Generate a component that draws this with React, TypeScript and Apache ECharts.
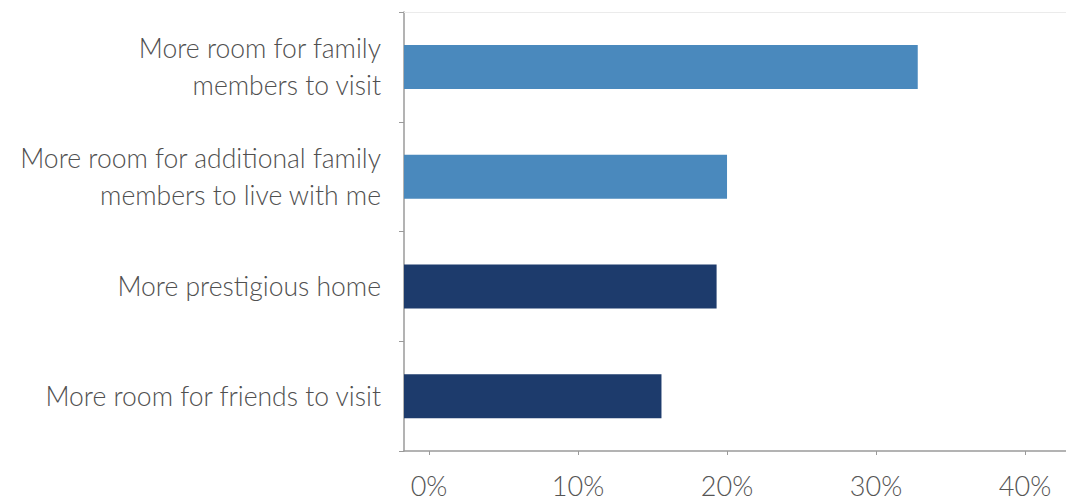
import React, { useEffect, useRef } from "react";
import * as echarts from "echarts";

const categories = [
  "More room for family\nmembers to visit",
  "More room for additional family\nmembers to live with me",
  "More prestigious home",
  "More room for friends to visit",
];
const values = [32.8, 20.0, 19.3, 15.6];
const barColors = ["#4A89BD", "#4A89BD", "#1D3B6C", "#1D3B6C"];
const tickValues = [0, 10, 20, 30, 40];

export default function App() {
  const ref = useRef<HTMLDivElement>(null);
  useEffect(() => {
    document.body.style.margin = "0";
    const chart = echarts.init(ref.current!, null, { renderer: "svg" });
    const xMin = -1.68;
    const xMax = 42.75;
    chart.setOption({
      animation: false,
      backgroundColor: "#ffffff",
      grid: { left: 404, right: 0, top: 12, bottom: 50, containLabel: false },
      xAxis: [
        {
          type: "value",
          min: xMin,
          max: xMax,
          position: "bottom",
          axisLine: { show: true, onZero: false, lineStyle: { color: "#9a9a9a", width: 1.5 } },
          axisTick: {
            show: true,
            length: 4,
            customValues: tickValues,
            lineStyle: { color: "#9a9a9a" },
          },
          axisLabel: {
            customValues: tickValues,
            formatter: (v: number) => `${v}%`,
            fontFamily: "Lato",
            fontWeight: 300,
            fontSize: 27,
            lineHeight: 28,
            color: "#555555",
            margin: 20,
          },
          splitLine: { show: false },
        },
        {
          type: "value",
          min: xMin,
          max: xMax,
          position: "top",
          axisLine: { show: true, onZero: false, lineStyle: { color: "#ebebeb", width: 1 } },
          axisTick: { show: false },
          axisLabel: { show: false },
          splitLine: { show: false },
        },
      ],
      yAxis: {
        type: "category",
        data: categories,
        inverse: true,
        axisLine: { show: true, onZero: false, lineStyle: { color: "#9a9a9a", width: 1.5 } },
        axisTick: { show: true, length: 5, lineStyle: { color: "#9a9a9a" } },
        axisLabel: {
          fontFamily: "Lato",
          fontWeight: 300,
          fontSize: 26.5,
          lineHeight: 37,
          color: "#505050",
          margin: 23,
          align: "right",
        },
      },
      series: [
        {
          type: "custom",
          xAxisIndex: 0,
          encode: { x: 1, y: 0 },
          data: values.map((v, i) => [i, v]),
          renderItem: (params: any, api: any) => {
            const idx = api.value(0);
            const v = api.value(1);
            const end = api.coord([v, idx]);
            const x0 = params.coordSys.x;
            const h = 44;
            return {
              type: "rect",
              shape: { x: x0, y: end[1] - h / 2, width: end[0] - x0, height: h },
              style: { fill: barColors[idx] },
            };
          },
        },
      ],
    });
    return () => chart.dispose();
  }, []);
  return <div ref={ref} style={{ width: 1066, height: 501 }} />;
}
